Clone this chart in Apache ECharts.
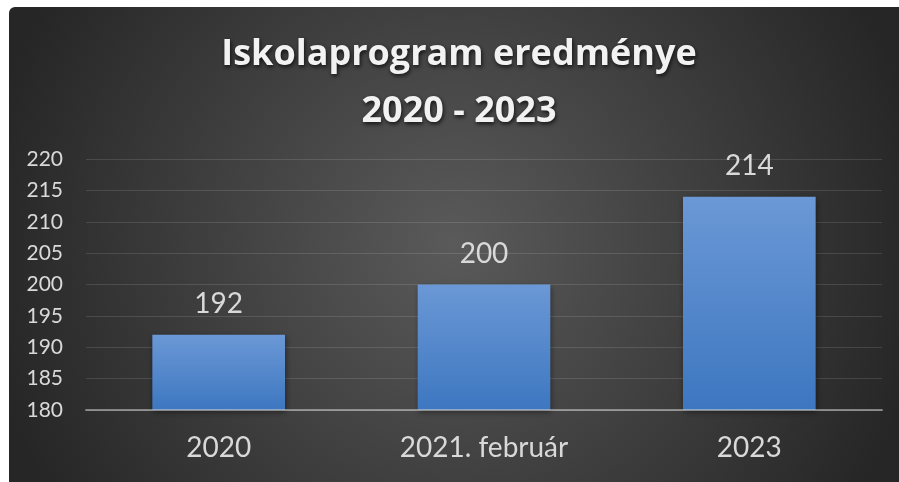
<!DOCTYPE html>
<html>
<head>
<meta charset="utf-8">
<script src="https://cdn.jsdelivr.net/npm/echarts@6/dist/echarts.min.js"></script>
<style>
html,body{margin:0;padding:0;background:#ffffff;width:899px;height:482px;overflow:hidden;}
#chart{position:absolute;left:9px;top:7px;width:890px;height:475px;border-top-left-radius:6px;overflow:hidden;}
</style>
</head>
<body>
<div id="chart"></div>
<script>
const titleLines = ['Iskolaprogram eredménye', '2020 - 2023'];
const categories = ['2020', '2021. február', '2023'];
const values = [192, 200, 214];
const yMin = 180, yMax = 220, yStep = 5;

const chart = echarts.init(document.getElementById('chart'), null, {renderer: 'canvas'});
const labelFont = 'Lato, "Open Sans", sans-serif';
chart.setOption({
  backgroundColor: {
    type: 'radial', x: 0.5, y: 0.5, r: 1.0,
    colorStops: [{offset: 0, color: '#5a5a5a'}, {offset: 1, color: '#262626'}]
  },
  title: {
    text: titleLines.join('\n'),
    left: 445,
    top: 14,
    textAlign: 'center',
    textStyle: {
      fontFamily: '"Open Sans", sans-serif',
      fontWeight: 'bold',
      fontSize: 36,
      lineHeight: 57,
      color: '#f2f2f2',
      textShadowColor: 'rgba(0,0,0,0.75)',
      textShadowBlur: 4,
      textShadowOffsetX: 1,
      textShadowOffsetY: 2
    }
  },
  grid: {left: 77, right: 17, top: 152, bottom: 72, containLabel: false},
  xAxis: {
    type: 'category',
    data: categories,
    z: 5,
    axisLine: {show: true, lineStyle: {color: 'rgba(217,217,217,0.5)', width: 2}},
    axisTick: {show: false},
    axisLabel: {color: '#d9d9d9', fontFamily: labelFont, fontSize: 28, margin: 24}
  },
  yAxis: {
    type: 'value',
    min: yMin, max: yMax, interval: yStep,
    axisLine: {show: false},
    axisTick: {show: false},
    splitLine: {lineStyle: {color: 'rgba(255,255,255,0.12)', width: 1}},
    axisLabel: {color: '#d9d9d9', fontFamily: labelFont, fontSize: 21, margin: 23}
  },
  series: [{
    type: 'bar',
    data: values,
    barWidth: '50%',
    itemStyle: {
      color: {
        type: 'linear', x: 0, y: 0, x2: 0, y2: 1,
        colorStops: [{offset: 0, color: '#6b98d6'}, {offset: 1, color: '#3d77c0'}]
      },
      shadowColor: 'rgba(0,0,0,0.45)',
      shadowBlur: 6,
      shadowOffsetX: 1,
      shadowOffsetY: 2
    },
    label: {
      show: true, position: 'top', distance: 17,
      color: '#d9d9d9', fontFamily: labelFont, fontSize: 28
    }
  }]
});
</script>
</body>
</html>
